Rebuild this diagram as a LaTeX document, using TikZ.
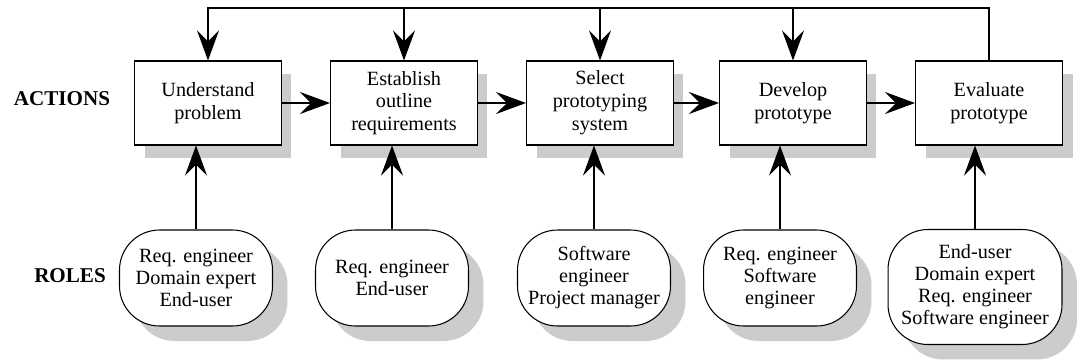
\documentclass[tikz,border=0pt]{standalone}
\usepackage{fontspec}
\setmainfont{Liberation Serif}
\usetikzlibrary{arrows.meta,shadows}

\begin{document}
\begin{tikzpicture}[
    x=0.02cm,
    y=-0.02cm,
    line width=0.6pt,
    >={Stealth[length=0.6cm,width=0.44cm,inset=0.22cm]},
    action/.style={
      draw,
      fill=white,
      align=center,
      minimum width=2.94cm,
      minimum height=1.68cm,
      font=\fontsize{11.5}{13}\selectfont,
      drop shadow={shadow xshift=0.2cm, shadow yshift=-0.26cm, fill=black!20, opacity=1}
    },
    role/.style={
      draw,
      fill=white,
      align=center,
      rounded corners=0.8cm,
      minimum width=3.06cm,
      minimum height=1.92cm,
      inner sep=1pt,
      font=\fontsize{11.5}{12.5}\selectfont,
      drop shadow={shadow xshift=0.3cm, shadow yshift=-0.3cm, fill=black!20, opacity=1}
    },
    heading/.style={
      font=\fontsize{12}{14}\selectfont\bfseries
    }
  ]
    \useasboundingbox (0,0) rectangle (1084,363);

    \node[heading] (actions) at (62, 99) {ACTIONS};
    \node[heading] (roles) at (70, 276) {ROLES};

    \node[action] (understand) at (208, 103) {Understand\\problem};
    \node[action] (establish) at (404, 103) {Establish\\outline\\requirements};
    \node[action] (select) at (600, 103) {Select\\prototyping\\system};
    \node[action] (develop) at (793, 103) {Develop\\prototype};
    \node[action] (evaluate) at (989, 103) {Evaluate\\prototype};

    \node[role] (role1) at (196, 278) {Req. engineer\\Domain expert\\End-user};
    \node[role] (role2) at (392, 278) {Req. engineer\\End-user};
    \node[role] (role3) at (594, 278) {Software\\engineer\\Project manager};
    \node[role] (role4) at (780, 278) {Req. engineer\\Software\\engineer};
    \node[role, minimum width=3.48cm, minimum height=2.3cm] (role5) at (975, 287)
      {End-user\\Domain expert\\Req. engineer\\Software engineer};

    \coordinate (back) at (989, 8);

    % sequence of actions
    \draw[->] (understand) to (establish);
    \draw[->] (establish) to (select);
    \draw[->] (select) to (develop);
    \draw[->] (develop) to (evaluate);

    % iteration from the evaluation
    \draw[->] (evaluate.north) -- (back) -| (understand.north);
    \draw[->] (establish.north |- back) -- (establish.north);
    \draw[->] (select.north |- back) -- (select.north);
    \draw[->] (develop.north |- back) -- (develop.north);

    % roles involved
    \draw[->] (role1.north) -- (role1.north |- understand.south);
    \draw[->] (role2.north) -- (role2.north |- establish.south);
    \draw[->] (role3.north) -- (role3.north |- select.south);
    \draw[->] (role4.north) -- (role4.north |- develop.south);
    \draw[->] (role5.north) -- (role5.north |- evaluate.south);
  \end{tikzpicture}
\end{document}
